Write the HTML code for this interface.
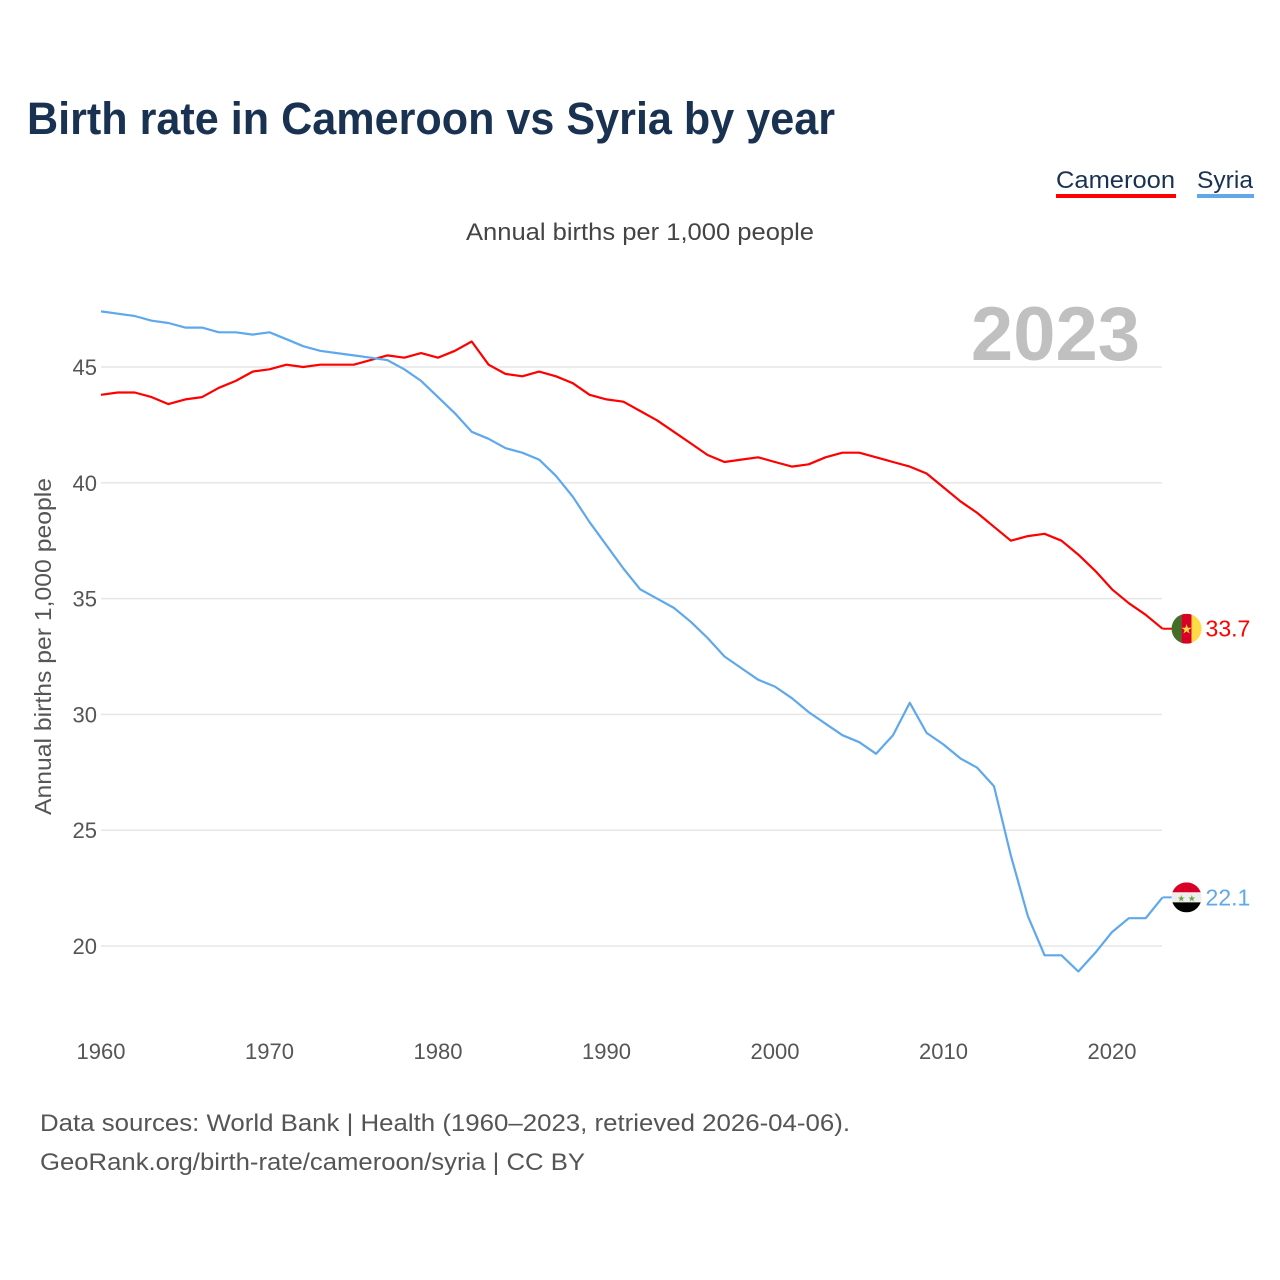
<!DOCTYPE html>
<html><head><meta charset="utf-8">
<style>
html,body{margin:0;padding:0;background:#fff;}
body{width:1280px;height:1280px;position:relative;font-family:"Liberation Sans",sans-serif;overflow:hidden;}
svg{position:absolute;left:0;top:0;}
</style></head>
<body>
<svg id="chart" width="1280" height="1280">
<text x="27" y="134" font-size="45" font-weight="bold" fill="#1a3252" textLength="808" lengthAdjust="spacingAndGlyphs">Birth rate in Cameroon vs Syria by year</text>
<g>
<text x="1056" y="188" font-size="24" fill="#1a3252" textLength="119" lengthAdjust="spacingAndGlyphs">Cameroon</text>
<rect x="1056" y="194" width="120" height="4" fill="#ff0000"/>
</g>
<g>
<text x="1197" y="188" font-size="24" fill="#1a3252" textLength="56" lengthAdjust="spacingAndGlyphs">Syria</text>
<rect x="1197" y="194" width="57" height="4" fill="#5fa8ec"/>
</g>
<text x="466" y="240" font-size="24" fill="#444" textLength="348" lengthAdjust="spacingAndGlyphs">Annual births per 1,000 people</text>
<text x="1140" y="360" font-size="76" font-weight="bold" fill="#c0c0c0" text-anchor="end">2023</text>
<text transform="translate(51,815) rotate(-90)" font-size="23" fill="#555" textLength="337" lengthAdjust="spacingAndGlyphs">Annual births per 1,000 people</text>
<g id="grid"></g><g id="yticks"></g><g id="xticks"></g><g id="lines"></g><g id="ends"></g>
<text x="40" y="1131" font-size="24" fill="#555" textLength="810" lengthAdjust="spacingAndGlyphs">Data sources: World Bank | Health (1960–2023, retrieved 2026-04-06).</text>
<text x="40" y="1170" font-size="24" fill="#555" textLength="545" lengthAdjust="spacingAndGlyphs">GeoRank.org/birth-rate/cameroon/syria | CC BY</text>
</svg>
<script>
const years = Array.from({length:64},(_,i)=>1960+i);
const cameroon = [43.8,43.9,43.9,43.7,43.4,43.6,43.7,44.1,44.4,44.8,44.9,45.1,45.0,45.1,45.1,45.1,45.3,45.5,45.4,45.6,45.4,45.7,46.1,45.1,44.7,44.6,44.8,44.6,44.3,43.8,43.6,43.5,43.1,42.7,42.2,41.7,41.2,40.9,41.0,41.1,40.9,40.7,40.8,41.1,41.3,41.3,41.1,40.9,40.7,40.4,39.8,39.2,38.7,38.1,37.5,37.7,37.8,37.5,36.9,36.2,35.4,34.8,34.3,33.7];
const syria = [47.4,47.3,47.2,47.0,46.9,46.7,46.7,46.5,46.5,46.4,46.5,46.2,45.9,45.7,45.6,45.5,45.4,45.3,44.9,44.4,43.7,43.0,42.2,41.9,41.5,41.3,41.0,40.3,39.4,38.3,37.3,36.3,35.4,35.0,34.6,34.0,33.3,32.5,32.0,31.5,31.2,30.7,30.1,29.6,29.1,28.8,28.3,29.1,30.5,29.2,28.7,28.1,27.7,26.9,23.9,21.3,19.6,19.6,18.9,19.7,20.6,21.2,21.2,22.1];
const yTicks = [20,25,30,35,40,45];
const xTicks = [1960,1970,1980,1990,2000,2010,2020];
const NS="http://www.w3.org/2000/svg";
const X = y => 101 + (y-1960)*(1112-101)/60;
const Y = v => 367 + (45-v)*(946-367)/25;
function mk(tag,attrs,parent){const e=document.createElementNS(NS,tag);for(const k in attrs)e.setAttribute(k,attrs[k]);document.getElementById(parent).appendChild(e);return e;}
yTicks.forEach(t=>{
  const l=mk('line',{x1:101,x2:1162,y1:Y(t),y2:Y(t),stroke:'#e6e6e6','stroke-width':1.5},'grid');
  
  
  const tx=mk('text',{x:97,y:Y(t)+8,'font-size':22,fill:'#555','text-anchor':'end'},'yticks');
  tx.textContent=t;
  
  
});
xTicks.forEach(t=>{
  const tx=mk('text',{x:X(t),y:1059,'font-size':22,fill:'#555','text-anchor':'middle'},'xticks');
  tx.textContent=t;
  
  
});
function line(data,color,name){
  const d=data.map((v,i)=>(i?'L':'M')+X(years[i]).toFixed(1)+','+Y(v).toFixed(1)).join(' ');
  const p=mk('path',{d:d,fill:'none',stroke:color,'stroke-width':2.2,'stroke-linejoin':'round'},'lines');
  
  
}
line(cameroon,'#ff0000','cameroon-line');
line(syria,'#5fa8ec','syria-line');
const cy=Y(cameroon[cameroon.length-1]), sy=Y(syria[syria.length-1]), ex=X(2023);
mk('line',{x1:ex,x2:ex+10,y1:cy,y2:cy,stroke:'#ff0000','stroke-width':2},'ends');
mk('line',{x1:ex,x2:ex+10,y1:sy,y2:sy,stroke:'#5fa8ec','stroke-width':2},'ends');
const cg=document.createElementNS(NS,'g');document.getElementById('ends').appendChild(cg);


cg.innerHTML=`<clipPath id="cc"><circle cx="${ex+24}" cy="${cy}" r="15"/></clipPath><g clip-path="url(#cc)"><rect x="${ex+9}" y="${cy-15}" width="10" height="30" fill="#426e28"/><rect x="${ex+19}" y="${cy-15}" width="10" height="30" fill="#d80027"/><rect x="${ex+29}" y="${cy-15}" width="11" height="30" fill="#ffda44"/></g><text x="${ex+24}" y="${cy+5}" font-size="13" fill="#ffda44" text-anchor="middle">★</text>`;
const sg=document.createElementNS(NS,'g');document.getElementById('ends').appendChild(sg);


sg.innerHTML=`<clipPath id="sc"><circle cx="${ex+24}" cy="${sy}" r="15"/></clipPath><g clip-path="url(#sc)"><rect x="${ex+9}" y="${sy-15}" width="30" height="10" fill="#d80027"/><rect x="${ex+9}" y="${sy-5}" width="30" height="10" fill="#eee"/><rect x="${ex+9}" y="${sy+5}" width="30" height="10" fill="#000"/></g><text x="${ex+24}" y="${sy+4}" font-size="9" fill="#6da544" text-anchor="middle">★ ★</text>`;
const ct=mk('text',{x:ex+43,y:cy+8,'font-size':23,fill:'#ff0000'},'ends');
ct.textContent=cameroon[cameroon.length-1].toFixed(1);


const st=mk('text',{x:ex+43,y:sy+8,'font-size':23,fill:'#5fa8ec'},'ends');
st.textContent=syria[syria.length-1].toFixed(1);


</script>
</body></html>
